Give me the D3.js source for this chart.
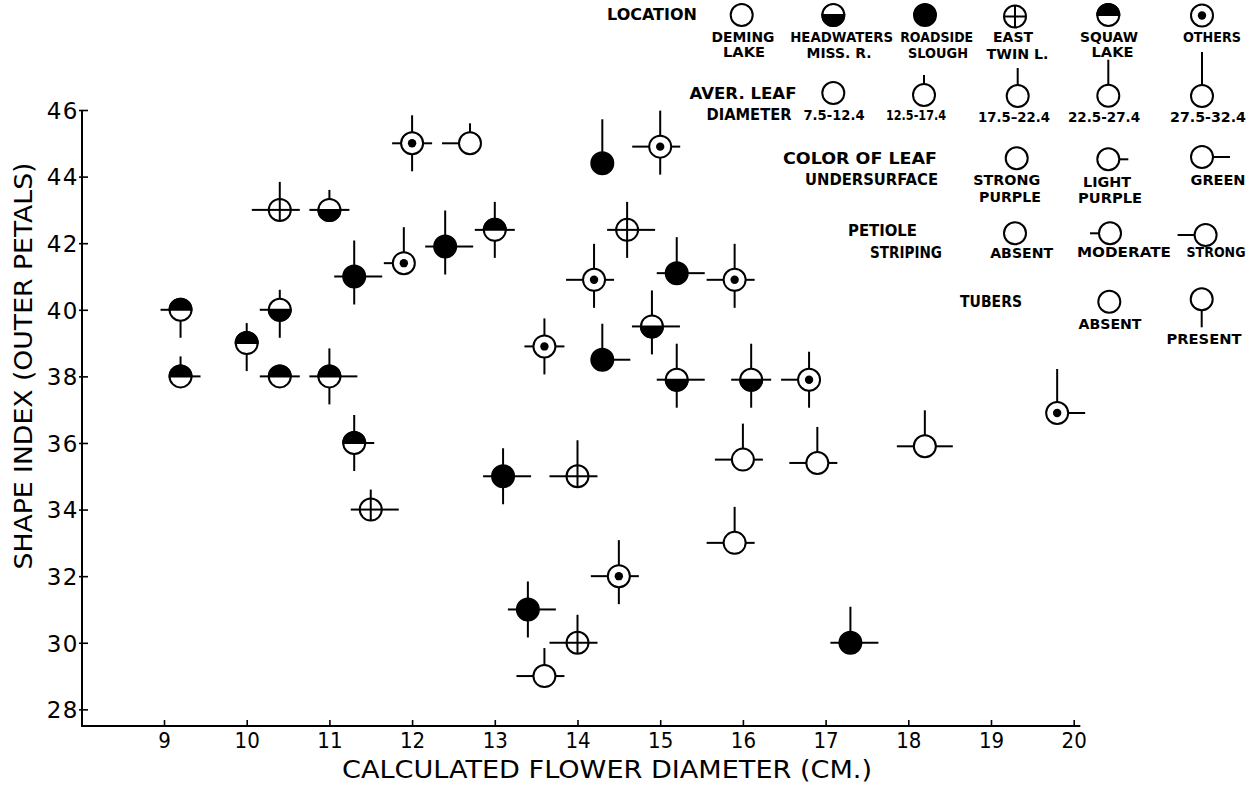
<!DOCTYPE html>
<html>
<head>
<meta charset="utf-8">
<script src="https://cdn.jsdelivr.net/npm/d3@7"></script>
<style>
  html, body { margin: 0; padding: 0; background: #fff; }
  svg { display: block; }
</style>
</head>
<body>
<svg id="chart" width="1251" height="785"></svg>
<script>
// ---------------- DATA ----------------
const xTickValues = [9, 10, 11, 12, 13, 14, 15, 16, 17, 18, 19, 20];
const yTickValues = [28, 30, 32, 34, 36, 38, 40, 42, 44, 46];

// Location codes: D = Deming Lake, H = Headwaters Miss. R., R = Roadside Slough,
// E = East Twin L., S = Squaw Lake, O = Others
const locationCategories = ["D", "H", "R", "E", "S", "O"];

const flowerDiameter = [9.2, 9.2, 10.0, 10.4, 10.4, 11.0, 11.3, 11.9, 12.0, 12.7,
                        12.4, 13.0, 14.3, 15.0, 14.6, 14.2, 15.2, 15.9, 13.6, 14.3,
                        14.9, 15.2, 16.1, 16.8, 16.0, 16.9, 15.9, 13.1, 14.0, 14.5,
                        13.4, 14.0, 13.6, 17.3, 18.2, 19.8, 10.4, 11.0, 11.3, 11.5];
const shapeIndex     = [40.0, 38.0, 39.0, 40.0, 43.0, 43.0, 41.0, 41.4, 45.0, 45.0,
                        41.9, 42.4, 44.4, 44.9, 42.4, 40.9, 41.1, 40.9, 38.9, 38.5,
                        39.5, 37.9, 37.9, 37.9, 35.5, 35.4, 33.0, 35.0, 35.0, 32.0,
                        31.0, 30.0, 29.0, 30.0, 35.9, 36.9, 38.0, 38.0, 36.0, 34.0];
const siteLocation   = ["S", "S", "S", "H", "E", "H", "R", "O", "O", "D",
                        "R", "S", "R", "O", "E", "O", "R", "O", "O", "R",
                        "H", "H", "H", "O", "D", "D", "D", "R", "E", "O",
                        "R", "E", "D", "R", "D", "O", "S", "S", "S", "E"];
// average leaf diameter class 0..4 (7.5-12.4 ... 27.5-32.4) -> top ray
const leafDiameterClass = [0, 1, 1, 1, 2, 1, 3, 3, 2, 1,
                           3, 2, 4, 3, 2, 3, 3, 3, 2, 3,
                           3, 3, 3, 2, 3, 3, 3, 2, 3, 3,
                           2, 2, 2, 3, 3, 4, 0, 2, 2, 1];
// colour of leaf undersurface 0 strong purple, 1 light purple, 2 green -> right ray
const leafColor      = [0, 1, 0, 0, 1, 1, 2, 0, 1, 0,
                        2, 1, 0, 1, 2, 1, 2, 1, 1, 2,
                        2, 2, 1, 0, 1, 1, 1, 2, 1, 1,
                        2, 1, 1, 2, 2, 2, 1, 2, 1, 2];
// petiole striping 0 absent, 1 moderate, 2 strong -> left ray
const petioleStriping = [1, 0, 0, 1, 2, 1, 1, 1, 1, 2,
                         1, 1, 0, 2, 1, 2, 1, 2, 1, 0,
                         1, 1, 1, 2, 2, 2, 2, 1, 2, 2,
                         1, 2, 2, 1, 2, 0, 1, 1, 0, 1];
// tubers 0 absent, 1 present -> bottom ray
const tubers         = [1, 0, 1, 1, 0, 0, 1, 0, 1, 0,
                        1, 1, 0, 1, 1, 1, 0, 1, 1, 0,
                        1, 1, 1, 1, 0, 0, 0, 1, 0, 1,
                        1, 0, 0, 0, 0, 0, 0, 1, 1, 0];

// ---------------- SETUP ----------------
const svg = d3.select("#chart");
const x = d3.scaleLinear().domain([8, 20]).range([81.3, 1073.7]);
const y = d3.scaleLinear().domain([27.5, 46]).range([726, 110]);

const R = 11;
const topLen = [0, 9, 17, 25, 33];
const sideLen = [0, 9, 17];
const bottomLen = [0, 17];
const SW = 2;

function drawGlyph(g, loc, top, right, left, bottom) {
  const rays = [];
  if (topLen[top]) rays.push([0, -R, 0, -R - topLen[top]]);
  if (sideLen[right]) rays.push([R, 0, R + sideLen[right], 0]);
  if (sideLen[left]) rays.push([-R, 0, -R - sideLen[left], 0]);
  if (bottomLen[bottom]) rays.push([0, R, 0, R + bottomLen[bottom]]);
  g.selectAll("line.ray").data(rays).enter().append("line")
    .attr("class", "ray")
    .attr("x1", d => d[0]).attr("y1", d => d[1])
    .attr("x2", d => d[2]).attr("y2", d => d[3])
    .attr("stroke", "#000").attr("stroke-width", SW);
  g.append("circle").attr("r", R)
    .attr("fill", loc === "R" ? "#000" : "#fff")
    .attr("stroke", "#000").attr("stroke-width", SW);
  if (loc === "H") {
    g.append("path").attr("d", `M${-R},0 A${R},${R} 0 0 0 ${R},0 Z`).attr("fill", "#000")
      .attr("stroke", "#000").attr("stroke-width", SW);
  } else if (loc === "S") {
    g.append("path").attr("d", `M${-R},0 A${R},${R} 0 0 1 ${R},0 Z`).attr("fill", "#000")
      .attr("stroke", "#000").attr("stroke-width", SW);
  } else if (loc === "E") {
    g.append("line").attr("x1", -R).attr("x2", R).attr("y1", 0).attr("y2", 0)
      .attr("stroke", "#000").attr("stroke-width", SW);
    g.append("line").attr("x1", 0).attr("x2", 0).attr("y1", -R).attr("y2", R)
      .attr("stroke", "#000").attr("stroke-width", SW);
  } else if (loc === "O") {
    g.append("circle").attr("r", 4.2).attr("fill", "#000");
  }
}

// ---------------- AXES ----------------
const axisFont = "'DejaVu Sans', 'Liberation Sans', sans-serif";

// y axis
const yAxis = d3.axisLeft(y).tickValues(yTickValues).tickSize(4).tickFormat(d3.format("d"));
const gy = svg.append("g").attr("transform", "translate(82,0)").call(yAxis);
gy.select(".domain").remove();
gy.selectAll(".tick line").attr("x1", 6).attr("x2", -3).attr("stroke", "#000").attr("stroke-width", 1.6);
gy.selectAll(".tick text")
  .attr("x", -3).attr("dy", "0.36em")
  .style("font-family", axisFont).style("font-size", "23px")
  .style("letter-spacing", "1.5px").attr("fill", "#000");
svg.append("line").attr("x1", 82).attr("x2", 82).attr("y1", y(46)).attr("y2", 727)
  .attr("stroke", "#000").attr("stroke-width", 2);

// x axis
const xAxis = d3.axisBottom(x).tickValues(xTickValues).tickSize(-6).tickFormat(d3.format("d"));
const gx = svg.append("g").attr("transform", "translate(0,726)").call(xAxis);
gx.select(".domain").remove();
gx.selectAll(".tick line").attr("stroke", "#000").attr("stroke-width", 1.6);
gx.selectAll(".tick text")
  .attr("y", 22).attr("dy", 0)
  .style("font-family", "'DejaVu Sans Condensed', 'DejaVu Sans', sans-serif")
  .style("font-size", "22px").style("font-weight", "normal")
  .attr("fill", "#000");
svg.append("line").attr("x1", 81).attr("x2", x(20.08)).attr("y1", 726).attr("y2", 726)
  .attr("stroke", "#000").attr("stroke-width", 2);

// axis titles
svg.append("text")
  .attr("transform", "translate(32,366) rotate(-90)")
  .attr("text-anchor", "middle")
  .attr("textLength", 407).attr("lengthAdjust", "spacingAndGlyphs")
  .style("font-family", axisFont).style("font-size", "25px").style("font-weight", "normal")
  .attr("fill", "#000")
  .text("SHAPE INDEX (OUTER PETALS)");
svg.append("text")
  .attr("x", 607).attr("y", 778)
  .attr("text-anchor", "middle")
  .attr("textLength", 530).attr("lengthAdjust", "spacingAndGlyphs")
  .style("font-family", axisFont).style("font-size", "24px").style("font-weight", "normal")
  .attr("fill", "#000")
  .text("CALCULATED FLOWER DIAMETER (CM.)");

// ---------------- DATA GLYPHS ----------------
const rows = flowerDiameter.map((d, i) => ({
  fd: d, si: shapeIndex[i], loc: siteLocation[i],
  top: leafDiameterClass[i], right: leafColor[i], left: petioleStriping[i], bottom: tubers[i]
}));
const glyphs = svg.append("g").selectAll("g.pt").data(rows).enter().append("g")
  .attr("class", "pt")
  .attr("transform", d => `translate(${x(d.fd)},${y(d.si)})`);
glyphs.each(function(d) {
  drawGlyph(d3.select(this), d.loc, d.top, d.right, d.left, d.bottom);
});

// ---------------- LEGEND ----------------
const legFont = "'DejaVu Sans', 'Liberation Sans', sans-serif";
const legendTexts = [
  ["LOCATION", 652, 15, 90, 15],
  ["DEMING", 743, 36.7, 63, 14], ["LAKE", 744, 51.7, 42, 14],
  ["HEADWATERS", 841.7, 36.7, 103, 14], ["MISS. R.", 839, 53, 65, 14],
  ["ROADSIDE", 936.7, 36.7, 73, 14], ["SLOUGH", 938, 53, 60, 14],
  ["EAST", 1013, 37, 40, 14], ["TWIN L.", 1017.5, 54, 62, 14],
  ["SQUAW", 1109, 37, 58, 14], ["LAKE", 1112.5, 52, 42, 14],
  ["OTHERS", 1212, 37, 58, 14],
  ["AVER.  LEAF", 743, 93.3, 107, 15], ["DIAMETER", 749, 114.3, 85, 15],
  ["7.5-12.4", 834, 115, 61, 14], ["12.5-17.4", 916, 115, 60, 14],
  ["17.5–22.4", 1014, 117, 72, 14], ["22.5-27.4", 1104, 117, 72, 14],
  ["27.5-32.4", 1208, 117, 76, 14],
  ["COLOR  OF  LEAF", 860, 158.3, 154, 15], ["UNDERSURFACE", 871.5, 180, 133, 15],
  ["STRONG", 1006.7, 180, 67, 14], ["PURPLE", 1010, 197, 62, 14],
  ["LIGHT", 1107, 181.7, 48, 14], ["PURPLE", 1110, 198, 64, 14],
  ["GREEN", 1218, 180, 55, 14],
  ["PETIOLE", 882.5, 230.7, 69, 15], ["STRIPING", 906, 252.3, 72, 15],
  ["ABSENT", 1021.7, 253, 63, 14], ["MODERATE", 1124, 252, 94, 14], ["STRONG", 1216, 252, 59, 14],
  ["TUBERS", 991, 301.7, 62, 15],
  ["ABSENT", 1110, 324, 63, 14], ["PRESENT", 1204, 339, 75, 14]
];
svg.append("g").selectAll("text").data(legendTexts).enter().append("text")
  .attr("x", d => d[1]).attr("y", d => d[2] + d[4] * 0.36)
  .attr("text-anchor", "middle")
  .attr("textLength", d => d[3]).attr("lengthAdjust", "spacingAndGlyphs")
  .style("font-family", legFont).style("font-size", d => d[4] + "px").style("font-weight", "bold")
  .text(d => d[0]);

// legend glyphs: [cx, cy, loc, top, right, left, bottom]
const legendGlyphs = [
  [741.7, 15, "D", 0, 0, 0, 0], [833.3, 15, "H", 0, 0, 0, 0], [925, 15, "R", 0, 0, 0, 0],
  [1015, 16.5, "E", 0, 0, 0, 0], [1108.3, 15, "S", 0, 0, 0, 0], [1202, 15.5, "O", 0, 0, 0, 0],
  [833.3, 93, "D", 0, 0, 0, 0], [924, 95, "D", 1, 0, 0, 0], [1017.7, 96, "D", 2, 0, 0, 0],
  [1108.3, 95.7, "D", 3, 0, 0, 0], [1202, 96, "D", 4, 0, 0, 0],
  [1016.7, 158.3, "D", 0, 0, 0, 0], [1108.3, 159.3, "D", 0, 1, 0, 0], [1202, 157, "D", 0, 2, 0, 0],
  [1015, 233.3, "D", 0, 0, 0, 0], [1110, 233.3, "D", 0, 0, 1, 0], [1205.6, 235, "D", 0, 0, 2, 0],
  [1109.3, 301.7, "D", 0, 0, 0, 0], [1201.7, 299.3, "D", 0, 0, 0, 1]
];
svg.append("g").selectAll("g").data(legendGlyphs).enter().append("g")
  .attr("transform", d => `translate(${d[0]},${d[1]})`)
  .each(function(d) { drawGlyph(d3.select(this), d[2], d[3], d[4], d[5], d[6]); });
</script>
</body>
</html>
